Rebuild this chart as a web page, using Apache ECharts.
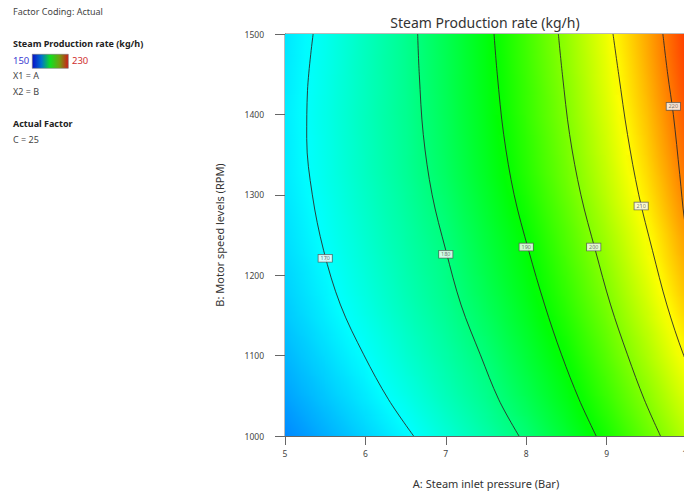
<!DOCTYPE html>
<html>
<head>
<meta charset="utf-8">
<script src="https://cdn.jsdelivr.net/npm/echarts@6/dist/echarts.min.js"></script>
<style>
html,body{margin:0;padding:0;background:#fff;}
#chart{width:684px;height:496px;}
</style>
</head>
<body>
<div id="chart"></div>
<script>
// ---- data ----
const xTicks = [5, 6, 7, 8, 9, 10];
const yTicks = [1000, 1100, 1200, 1300, 1400, 1500];
const aValues = [5, 5.5, 6, 6.5, 7, 7.5, 8, 8.5, 9, 9.5, 10];
const bValues = [1000,1025,1050,1075,1100,1125,1150,1175,1200,1225,1250,1275,1300,1325,1350,1375,1400,1425,1450,1475,1500];
const zRows = [
  [160.7,163.6,166.5,169.4,173.1,176.9,180.9,186.1,191.6,197.9,204.5],
  [161.7,164.6,167.5,170.5,174.3,178.0,182.3,187.4,193.1,199.3,206.1],
  [162.7,165.6,168.5,171.7,175.4,179.0,183.6,188.6,194.4,200.7,207.6],
  [163.5,166.4,169.3,172.7,176.2,179.8,184.6,189.5,195.6,202.0,209.0],
  [164.3,167.2,170.1,173.6,177.0,180.7,185.6,190.6,196.8,203.4,210.5],
  [165.0,167.9,170.9,174.3,177.7,181.7,186.5,191.7,197.8,204.5,211.8],
  [165.7,168.6,171.7,175.1,178.4,182.6,187.4,192.8,198.9,205.8,213.3],
  [166.2,169.1,172.3,175.7,179.1,183.4,188.2,193.8,199.9,206.9,214.7],
  [166.6,169.5,172.8,176.2,179.5,184.1,188.9,194.6,200.8,207.9,215.8],
  [167.1,170.0,173.3,176.6,179.9,184.7,189.5,195.5,201.8,208.9,217.0],
  [167.4,170.4,173.7,177.0,180.5,185.3,190.2,196.3,202.7,209.7,218.0],
  [167.7,170.7,174.1,177.4,181.1,186.0,191.1,197.1,203.7,210.8,219.2],
  [168.0,171.1,174.4,177.8,181.7,186.6,191.9,198.0,204.6,211.8,220.2],
  [168.3,171.4,174.8,178.2,182.3,187.2,192.7,198.7,205.3,212.7,221.1],
  [168.4,171.5,174.9,178.4,182.6,187.6,193.1,199.2,206.0,213.5,222.0],
  [168.4,171.6,175.1,178.5,182.9,187.9,193.5,199.6,206.5,214.2,222.7],
  [168.5,171.7,175.2,178.7,183.1,188.2,194.0,200.1,207.1,214.8,223.4],
  [168.4,171.6,175.1,178.7,183.3,188.4,194.2,200.4,207.6,215.5,224.1],
  [168.3,171.5,175.1,178.8,183.4,188.6,194.5,200.9,208.0,216.0,224.7],
  [168.1,171.3,175.1,178.8,183.5,188.8,194.8,201.2,208.4,216.5,225.2],
  [168.0,171.2,175.0,178.8,183.7,188.9,195.0,201.5,208.8,216.8,225.4]
];
const contour170 = [[6.60,1000],[6.29,1045],[5.98,1101],[5.69,1163],[5.48,1231],[5.34,1300],[5.27,1370],[5.28,1430],[5.35,1500]];
const contour180 = [[7.91,1000],[7.66,1045],[7.43,1101],[7.19,1163],[7.00,1231],[6.83,1300],[6.72,1375],[6.67,1450],[6.65,1500]];
const contour190 = [[8.87,1000],[8.66,1045],[8.44,1101],[8.23,1163],[8.03,1231],[7.85,1300],[7.72,1375],[7.64,1450],[7.60,1500]];
const contour200 = [[9.67,1000],[9.47,1045],[9.26,1101],[9.05,1163],[8.86,1231],[8.68,1300],[8.54,1375],[8.45,1450],[8.40,1500]];
const contour210 = [[10.40,1000],[10.17,1050],[9.96,1100],[9.75,1163],[9.57,1231],[9.40,1300],[9.26,1375],[9.15,1450],[9.08,1500]];
const contour220 = [[10.15,1150],[10.05,1225],[9.97,1268],[9.91,1325],[9.83,1400],[9.76,1450],[9.70,1500]];
const contourLevels = ['170','180','190','200','210','220'];
const labelA = [5.50, 7.00, 8.00, 8.84, 9.43, 9.83];
const labelB = [1221, 1226, 1235, 1235, 1286, 1410];
const scaleMin = 150, scaleMax = 230;

// ---- colour map ----
const cmap = [[150,[0,0,255]],[170,[0,255,255]],[190,[0,255,0]],[210,[255,255,0]],[230,[255,0,0]]];
function colorOf(v){
  if (v <= cmap[0][0]) return 'rgb(' + cmap[0][1].join(',') + ')';
  for (let k = 1; k < cmap.length; k++){
    if (v <= cmap[k][0]){
      const t = (v - cmap[k-1][0]) / (cmap[k][0] - cmap[k-1][0]);
      const c = cmap[k-1][1].map((c0, j) => Math.round(c0 + (cmap[k][1][j] - c0) * t));
      return 'rgb(' + c.join(',') + ')';
    }
  }
  return 'rgb(' + cmap[cmap.length-1][1].join(',') + ')';
}

const chart = echarts.init(document.getElementById('chart'), null, {renderer:'svg'});
const FONT = "'Noto Sans', 'Open Sans', sans-serif";
const contours = [contour170, contour180, contour190, contour200, contour210, contour220];

// one cell between two neighbouring rows and columns of the value grid
const cells = [];
for (let i = 0; i < bValues.length - 1; i++) {
  for (let k = 0; k < aValues.length - 1; k++) {
    cells.push([aValues[k], bValues[i], i, k]);
  }
}

function renderCell(params, api){
  const i = api.value(2), k = api.value(3);
  const pBL = api.coord([aValues[k], bValues[i]]);
  const pTR = api.coord([aValues[k+1], bValues[i+1]]);
  const x0 = pBL[0], x1 = pTR[0], yTop = pTR[1], yBot = pBL[1];
  const W = x1 - x0, H = yBot - yTop;
  const z00 = zRows[i][k], z01 = zRows[i][k+1], z10 = zRows[i+1][k], z11 = zRows[i+1][k+1];
  const zc = (z00 + z01 + z10 + z11) / 4;
  const gx = ((z01 - z00) + (z11 - z10)) / 2;
  const gd = ((z00 + z01) - (z10 + z11)) / 2;
  const cx = x0 + W/2, cy = yTop + H/2;
  const vx = gx / W, vy = gd / H;
  const G = vx*vx + vy*vy;
  let fill;
  const dv = (Math.abs(gx) + Math.abs(gd)) / 2;
  if (G < 1e-9 || dv < 1e-6) {
    fill = colorOf(zc);
  } else {
    const s = dv / G;
    const stops = [];
    const n = 6;
    for (let j = 0; j <= n; j++) {
      const t = j / n;
      stops.push({offset:t, color:colorOf(zc - dv + 2*dv*t)});
    }
    fill = new echarts.graphic.LinearGradient(cx - vx*s, cy - vy*s, cx + vx*s, cy + vy*s, stops, true);
  }
  return {
    type:'rect',
    shape:{x:x0 - 0.4, y:yTop - 0.4, width:W + 0.8, height:H + 0.8},
    style:{fill:fill}
  };
}

const series = [{
  type:'custom', z:1, clip:true, silent:true,
  data: cells, encode:{x:0, y:1},
  renderItem: renderCell
}];
contours.forEach((c)=>{
  series.push({
    type:'line', z:3, data:c, showSymbol:false, smooth:0.35, clip:true, silent:true,
    lineStyle:{color:'#2a2a2a', width:0.9}
  });
});
series.push({
  type:'scatter', z:5, symbolSize:1, silent:true,
  itemStyle:{color:'rgba(0,0,0,0)'},
  data: contourLevels.map((t,k)=>({name:t, value:[labelA[k], labelB[k]]})),
  label:{show:true, position:'inside', formatter:'{b}', fontSize:5.5, color:'#555', fontFamily:FONT,
         backgroundColor:'#fff', borderColor:'#555', borderWidth:0.8, padding:[1,2,0,2]}
});

const option = {
  animation:false,
  backgroundColor:'#fff',
  grid:{left:285, right:-3, top:34, bottom:60, outerBoundsMode:'none', containLabel:false,
        show:true, borderColor:'#777', borderWidth:1, backgroundColor:'transparent'},
  xAxis:{
    type:'value', min:xTicks[0], max:xTicks[xTicks.length-1], interval:1,
    name:'A: Steam inlet pressure (Bar)', nameLocation:'middle', nameGap:42,
    nameTextStyle:{fontSize:11, color:'#333', fontFamily:FONT},
    axisLine:{show:true, lineStyle:{color:'#666'}},
    axisTick:{show:true, length:9, lineStyle:{color:'#666'}},
    axisLabel:{fontSize:8.5, color:'#444', margin:13, fontFamily:FONT, formatter:(v)=>String(v)},
    splitLine:{show:false}
  },
  yAxis:{
    type:'value', min:yTicks[0], max:yTicks[yTicks.length-1], interval:100,
    name:'B: Motor speed levels (RPM)', nameLocation:'middle', nameGap:60,
    nameTextStyle:{fontSize:11, color:'#333', fontFamily:FONT},
    axisLine:{show:true, lineStyle:{color:'#666'}},
    axisTick:{show:true, length:10, lineStyle:{color:'#666'}},
    axisLabel:{fontSize:8.5, color:'#444', margin:21, fontFamily:FONT, formatter:(v)=>String(v)},
    splitLine:{show:false}
  },
  graphic:[
    {type:'text', x:485, y:22, style:{text:'Steam Production rate (kg/h)', align:'center', verticalAlign:'middle', fill:'#333', font:"14px " + FONT}},
    {type:'text', left:13, top:7, style:{text:'Factor Coding: Actual', fill:'#444', font:"9px " + FONT}},
    {type:'text', left:13, top:39, style:{text:'Steam Production rate (kg/h)', fill:'#222', font:"bold 9px " + FONT}},
    {type:'text', left:13, top:55, style:{text:String(scaleMin), fill:'#3a3ad0', font:"9.5px " + FONT}},
    {type:'rect', left:32, top:54, shape:{x:0, y:0, width:36, height:14},
     style:{fill:new echarts.graphic.LinearGradient(0,0,1,0,[
       {offset:0, color:'#0a10c8'},{offset:0.25, color:'#0070d0'},{offset:0.5, color:'#10e020'},{offset:0.75, color:'#70a010'},{offset:1, color:'#d01818'}]),
       stroke:'#777', lineWidth:0.6}},
    {type:'text', left:72, top:55, style:{text:String(scaleMax), fill:'#d03030', font:"9.5px " + FONT}},
    {type:'text', left:13, top:71, style:{text:'X1 = A', fill:'#444', font:"9px " + FONT}},
    {type:'text', left:13, top:87, style:{text:'X2 = B', fill:'#444', font:"9px " + FONT}},
    {type:'text', left:13, top:119, style:{text:'Actual Factor', fill:'#222', font:"bold 9px " + FONT}},
    {type:'text', left:13, top:135, style:{text:'C = 25', fill:'#444', font:"9px " + FONT}}
  ],
  series: series
};
chart.setOption(option);
</script>
</body>
</html>
